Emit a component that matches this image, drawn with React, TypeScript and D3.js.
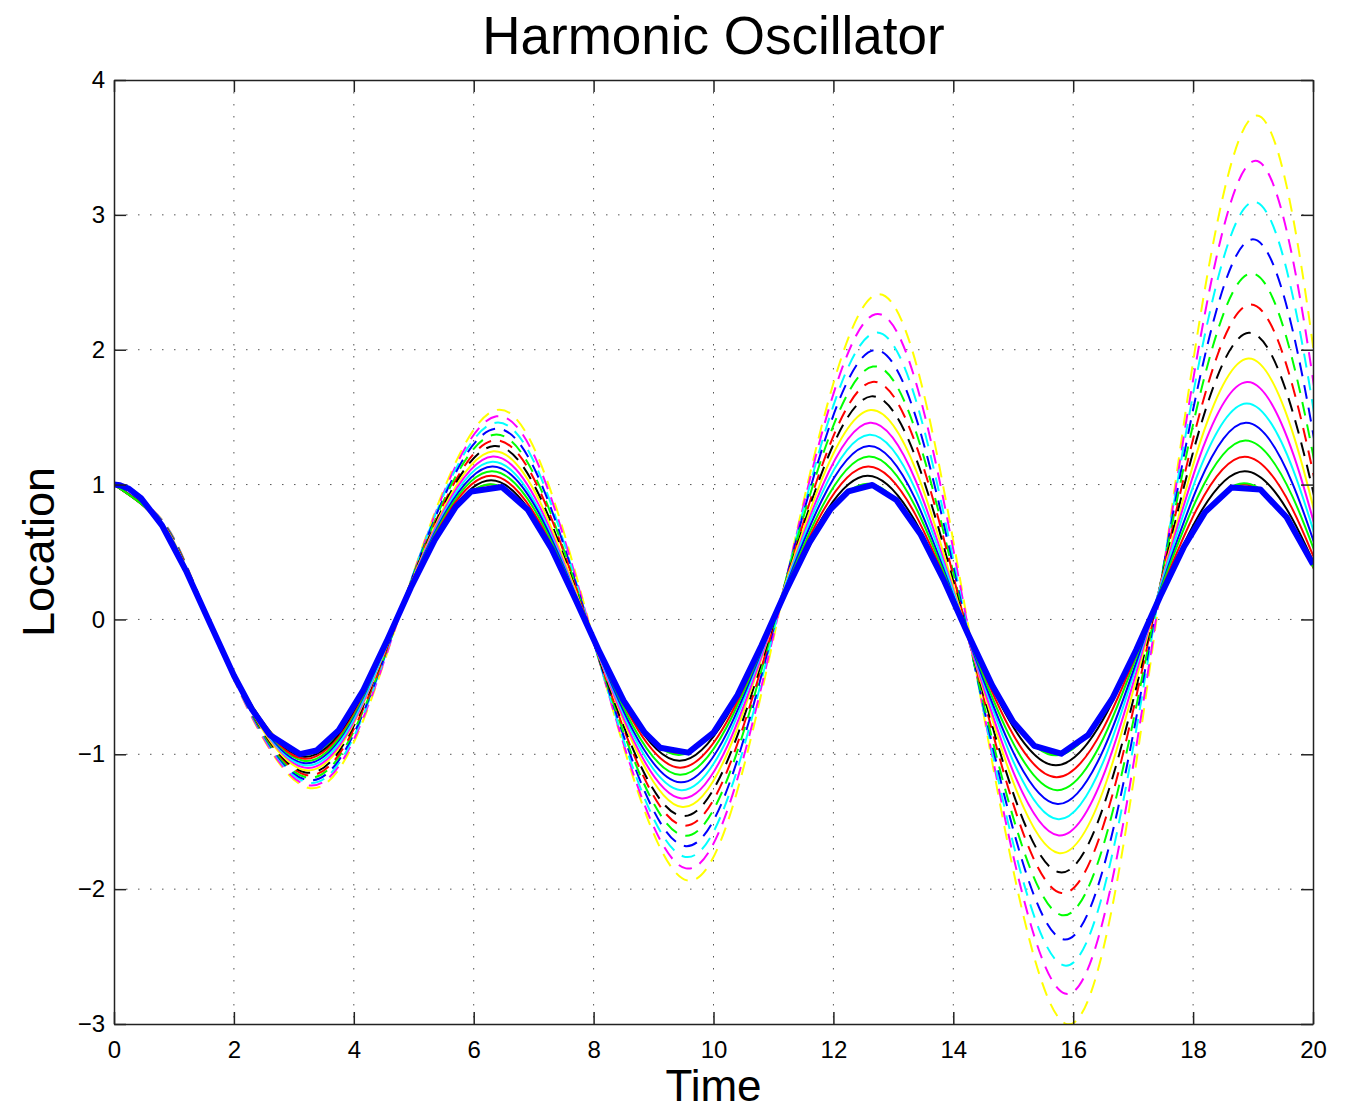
import { useEffect, useRef } from "react";
import * as d3 from "d3";

const timeTicks = [0, 2, 4, 6, 8, 10, 12, 14, 16, 18, 20];
const locationTicks = [-3, -2, -1, 0, 1, 2, 3, 4];

// key points [time, location] of each stepped run: start, zero crossings, extremes
// (last zero crossing sits just past the right edge, clipped)
const yellowDashed = [[0, 1], [0.8, 0.74], [1.58, 0], [3.23, -1.248], [4.74, 0], [6.39, 1.554], [7.91, 0], [9.56, -1.935], [11.07, 0], [12.72, 2.409], [14.23, 0], [15.88, -2.999], [17.39, 0], [19.04, 3.735], [20.55, 0]];
const magentaDashed = [[0, 1], [0.8, 0.737], [1.58, 0], [3.22, -1.228], [4.74, 0], [6.38, 1.506], [7.9, 0], [9.54, -1.846], [11.06, 0], [12.7, 2.263], [14.22, 0], [15.86, -2.774], [17.38, 0], [19.02, 3.4], [20.53, 0]];
const cyanDashed = [[0, 1], [0.8, 0.733], [1.58, 0], [3.22, -1.209], [4.73, 0], [6.37, 1.459], [7.89, 0], [9.53, -1.761], [11.05, 0], [12.69, 2.125], [14.2, 0], [15.84, -2.565], [17.36, 0], [19.0, 3.096], [20.52, 0]];
const blueDashed = [[0, 1], [0.8, 0.73], [1.58, 0], [3.21, -1.19], [4.73, 0], [6.36, 1.414], [7.89, 0], [9.52, -1.68], [11.04, 0], [12.67, 1.996], [14.19, 0], [15.83, -2.372], [17.35, 0], [18.98, 2.818], [20.5, 0]];
const greenDashed = [[0, 1], [0.8, 0.727], [1.58, 0], [3.2, -1.171], [4.73, 0], [6.35, 1.37], [7.88, 0], [9.51, -1.603], [11.03, 0], [12.66, 1.875], [14.18, 0], [15.81, -2.193], [17.34, 0], [18.96, 2.566], [20.49, 0]];
const redDashed = [[0, 1], [0.8, 0.724], [1.58, 0], [3.2, -1.153], [4.73, 0], [6.35, 1.328], [7.88, 0], [9.5, -1.529], [11.03, 0], [12.65, 1.761], [14.18, 0], [15.8, -2.028], [17.33, 0], [18.95, 2.335], [20.48, 0]];
const blackDashed = [[0, 1], [0.8, 0.72], [1.57, 0], [3.19, -1.135], [4.72, 0], [6.34, 1.286], [7.87, 0], [9.48, -1.458], [11.02, 0], [12.63, 1.654], [14.17, 0], [15.78, -1.875], [17.32, 0], [18.93, 2.125], [20.46, 0]];
const yellowSolid = [[0, 1], [0.8, 0.717], [1.57, 0], [3.18, -1.117], [4.72, 0], [6.33, 1.247], [7.87, 0], [9.48, -1.391], [11.01, 0], [12.62, 1.553], [14.16, 0], [15.77, -1.733], [17.31, 0], [18.92, 1.934], [20.45, 0]];
const magentaSolid = [[0, 1], [0.8, 0.714], [1.57, 0], [3.18, -1.099], [4.72, 0], [6.32, 1.208], [7.86, 0], [9.47, -1.327], [11.01, 0], [12.61, 1.458], [14.15, 0], [15.76, -1.602], [17.3, 0], [18.9, 1.76], [20.44, 0]];
const cyanSolid = [[0, 1], [0.8, 0.711], [1.57, 0], [3.17, -1.082], [4.72, 0], [6.31, 1.17], [7.86, 0], [9.46, -1.266], [11.0, 0], [12.6, 1.369], [14.15, 0], [15.75, -1.481], [17.29, 0], [18.89, 1.602], [20.44, 0]];
const blueSolid = [[0, 1], [0.8, 0.708], [1.57, 0], [3.16, -1.065], [4.71, 0], [6.31, 1.134], [7.86, 0], [9.45, -1.208], [11.0, 0], [12.59, 1.286], [14.14, 0], [15.74, -1.369], [17.29, 0], [18.88, 1.458], [20.43, 0]];
const greenSolid = [[0, 1], [0.8, 0.705], [1.57, 0], [3.16, -1.048], [4.71, 0], [6.3, 1.099], [7.86, 0], [9.44, -1.152], [11.0, 0], [12.59, 1.208], [14.14, 0], [15.73, -1.266], [17.28, 0], [18.87, 1.327], [20.43, 0]];
const redSolid = [[0, 1], [0.8, 0.702], [1.57, 0], [3.15, -1.032], [4.71, 0], [6.29, 1.065], [7.86, 0], [9.44, -1.099], [11.0, 0], [12.58, 1.134], [14.14, 0], [15.72, -1.17], [17.28, 0], [18.86, 1.207], [20.42, 0]];
const blackSolid = [[0, 1], [0.8, 0.699], [1.57, 0], [3.15, -1.016], [4.71, 0], [6.29, 1.032], [7.85, 0], [9.43, -1.048], [11.0, 0], [12.57, 1.065], [14.14, 0], [15.71, -1.082], [17.28, 0], [18.86, 1.099], [20.42, 0]];
const redFine = [[0, 1], [0.8, 0.697], [1.57, 0], [3.14, -1.0], [4.71, 0], [6.28, 1.0], [7.85, 0], [9.42, -1.0], [11.0, 0], [12.57, 1.0], [14.14, 0], [15.71, -1.0], [17.28, 0], [18.85, 1.0], [20.42, 0]];
const greenFine = [[0, 1], [0.8, 0.697], [1.57, 0], [3.14, -1.002], [4.71, 0], [6.28, 1.003], [7.85, 0], [9.42, -1.005], [11.0, 0], [12.57, 1.006], [14.14, 0], [15.71, -1.008], [17.28, 0], [18.85, 1.009], [20.42, 0]];

// thick reference solution, coarse adaptive steps
const exactTime = [0, 0.1, 0.25, 0.45, 0.8, 1.2, 1.6, 2.0, 2.3, 2.6, 3.1, 3.38, 3.75, 4.15, 4.55, 4.95, 5.35, 5.7, 5.96, 6.47, 6.9, 7.3, 7.7, 8.1, 8.5, 8.85, 9.11, 9.58, 10.0, 10.4, 10.8, 11.2, 11.6, 11.95, 12.25, 12.65, 13.05, 13.45, 13.85, 14.25, 14.65, 15.0, 15.35, 15.8, 16.25, 16.65, 17.05, 17.45, 17.85, 18.2, 18.64, 19.12, 19.56, 20];
const exactLocation = [1.0, 0.995, 0.969, 0.9, 0.697, 0.362, -0.029, -0.416, -0.666, -0.857, -0.999, -0.972, -0.821, -0.532, -0.161, 0.235, 0.59, 0.835, 0.949, 0.982, 0.815, 0.523, 0.147, -0.243, -0.602, -0.838, -0.951, -0.988, -0.839, -0.561, -0.194, 0.203, 0.569, 0.816, 0.95, 0.997, 0.885, 0.634, 0.283, -0.113, -0.49, -0.76, -0.937, -0.996, -0.857, -0.588, -0.227, 0.17, 0.541, 0.796, 0.978, 0.964, 0.758, 0.408];

const series = [
  { data: yellowDashed, color: "#ffff00", dashed: true },
  { data: magentaDashed, color: "#ff00ff", dashed: true },
  { data: cyanDashed, color: "#00ffff", dashed: true },
  { data: blueDashed, color: "#0000ff", dashed: true },
  { data: greenDashed, color: "#00ff00", dashed: true },
  { data: redDashed, color: "#ff0000", dashed: true },
  { data: blackDashed, color: "#000000", dashed: true },
  { data: yellowSolid, color: "#ffff00", dashed: false },
  { data: magentaSolid, color: "#ff00ff", dashed: false },
  { data: cyanSolid, color: "#00ffff", dashed: false },
  { data: blueSolid, color: "#0000ff", dashed: false },
  { data: greenSolid, color: "#00ff00", dashed: false },
  { data: redSolid, color: "#ff0000", dashed: false },
  { data: blackSolid, color: "#000000", dashed: false },
  { data: redFine, color: "#ff0000", dashed: false },
  { data: greenFine, color: "#00ff00", dashed: false },
];

const font = "'Liberation Sans', Arial, Helvetica, sans-serif";

function App() {
  const ref = useRef<SVGSVGElement>(null);

  useEffect(() => {
    draw();
    // eslint-disable-next-line
  }, []);

  function draw() {
    const svg = d3.select(ref.current);
    svg.selectAll("*").remove();

    const x = d3.scaleLinear().domain([0, 20]).range([114, 1313]);
    const y = d3.scaleLinear().domain([-3, 4]).range([1024, 80]);

    svg.append("defs").append("clipPath").attr("id", "plot-clip")
      .append("rect")
      .attr("x", x(0)).attr("y", y(4))
      .attr("width", x(20) - x(0)).attr("height", y(-3) - y(4));

    // dotted grid
    const grid = svg.append("g").attr("stroke", "#555").attr("stroke-width", 1).attr("stroke-dasharray", "1.5,10.5");
    grid.selectAll("line.vx").data(timeTicks.slice(1, -1)).join("line")
      .attr("x1", d => x(d)).attr("x2", d => x(d))
      .attr("y1", y(4)).attr("y2", y(-3));
    grid.selectAll("line.hy").data(locationTicks.slice(1, -1)).join("line")
      .attr("x1", x(0)).attr("x2", x(20))
      .attr("y1", d => y(d)).attr("y2", d => y(d));

    const line = d3.line<number[]>()
      .x(d => x(d[0]))
      .y(d => y(d[1]))
      .curve(d3.curveNatural);

    const curves = svg.append("g").attr("clip-path", "url(#plot-clip)").attr("fill", "none");
    curves.selectAll("path.run").data(series).join("path")
      .attr("d", d => line(d.data))
      .attr("stroke", d => d.color)
      .attr("stroke-width", 2)
      .attr("stroke-dasharray", d => (d.dashed ? "14,9" : null));

    const exactLine = d3.line<number>()
      .x(d => x(d))
      .y((_, i) => y(exactLocation[i]));
    curves.append("path")
      .attr("d", exactLine(exactTime))
      .attr("stroke", "#0000ff")
      .attr("stroke-width", 6)
      .attr("stroke-linejoin", "round");

    // axes, ticks inward on all sides
    const fmt = (d: d3.NumberValue) => (+d < 0 ? "\u2212" + Math.abs(+d) : String(d));
    const styleAxis = (g: d3.Selection<SVGGElement, unknown, null, undefined>) => {
      g.attr("font-family", font).attr("font-size", 24);
      g.selectAll("path, line").attr("stroke", "#222").attr("stroke-width", 1.5);
      g.selectAll("text").attr("fill", "#000");
    };

    svg.append("g").attr("transform", `translate(0,${y(-3)})`)
      .call(d3.axisBottom(x).tickValues(timeTicks).tickSizeInner(-12).tickSizeOuter(0).tickPadding(17).tickFormat(fmt))
      .call(styleAxis);
    svg.append("g").attr("transform", `translate(0,${y(4)})`)
      .call(d3.axisTop(x).tickValues(timeTicks).tickSizeInner(-12).tickSizeOuter(0).tickFormat(() => ""))
      .call(styleAxis);
    svg.append("g").attr("transform", `translate(${x(0)},0)`)
      .call(d3.axisLeft(y).tickValues(locationTicks).tickSizeInner(-12).tickSizeOuter(0).tickPadding(9).tickFormat(fmt))
      .call(styleAxis);
    svg.append("g").attr("transform", `translate(${x(20)},0)`)
      .call(d3.axisRight(y).tickValues(locationTicks).tickSizeInner(-12).tickSizeOuter(0).tickFormat(() => ""))
      .call(styleAxis);

    svg.append("text")
      .attr("x", (x(0) + x(20)) / 2).attr("y", 54)
      .attr("text-anchor", "middle")
      .attr("font-family", font).attr("font-size", 53)
      .text("Harmonic Oscillator");

    svg.append("text")
      .attr("x", (x(0) + x(20)) / 2).attr("y", 1101)
      .attr("text-anchor", "middle")
      .attr("font-family", font).attr("font-size", 44)
      .text("Time");

    svg.append("text")
      .attr("transform", `translate(54,${(y(4) + y(-3)) / 2}) rotate(-90)`)
      .attr("text-anchor", "middle")
      .attr("font-family", font).attr("font-size", 45)
      .text("Location");
  }

  return (
    <svg ref={ref} width={1353} height={1109}
      style={{ position: "absolute", left: 0, top: 0, background: "#fff" }}>
    </svg>
  );
}

export default App;
